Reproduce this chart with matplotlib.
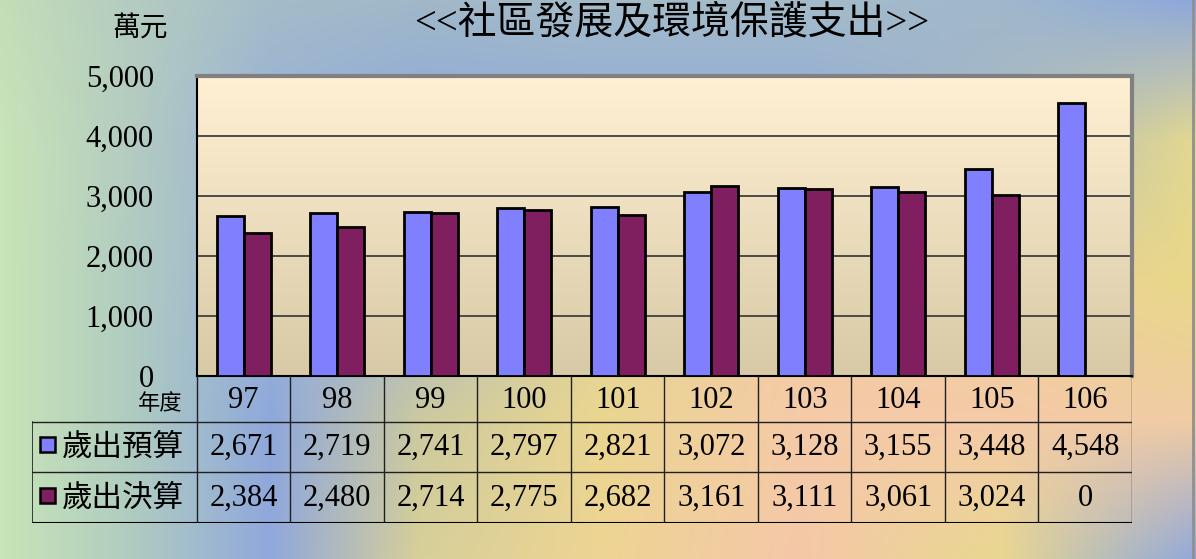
import numpy as np
import matplotlib.pyplot as plt
from matplotlib.colors import to_rgb
from matplotlib.patches import Rectangle

years = ["97", "98", "99", "100", "101", "102", "103", "104", "105", "106"]
budget = [2671, 2719, 2741, 2797, 2821, 3072, 3128, 3155, 3448, 4548]
actual = [2384, 2480, 2714, 2775, 2682, 3161, 3111, 3061, 3024, 0]
series_names = ["歲出預算", "歲出決算"]
title = "<<社區發展及環境保護支出>>"
unit = "萬元"
year_label = "年度"

blue = "#8080FF"
maroon = "#7F1F5F"
serif = ["Liberation Serif", "Noto Sans CJK TC"]
cjk = ["Noto Sans CJK TC", "Liberation Serif"]

W, H = 1196, 559
fig = plt.figure(figsize=(W / 100, H / 100), dpi=100)

# background wash (coarse colour grid, interpolated)
gx = [0, 130, 270, 420, 600, 800, 1000, 1196]
gy = [0, 140, 280, 420, 559]
grid = [
    ["#C4DEB8", "#B4CCC0", "#A4BCC8", "#A0B8C8", "#A4BCC8", "#A4BCC8", "#A0B8CC", "#8CA8DC"],
    ["#C8E4B8", "#B4CCC0", "#98B0D8", "#8FA8DC", "#8FA8DC", "#8FA8DC", "#A8B8C0", "#E4D890"],
    ["#C8E4B8", "#B0CCC0", "#98B0D8", "#A8B8C8", "#E0D498", "#F2CCA0", "#EED098", "#E8D888"],
    ["#C8E4B8", "#B0CCC0", "#8FA8DC", "#CCCAA0", "#EAD690", "#F5CAA8", "#F5CAA8", "#F0CCA4"],
    ["#C8E4B8", "#B0CCC0", "#90A8DC", "#D8D098", "#EED494", "#F5C8A8", "#E8D890", "#90A8DC"],
]
g = np.array([[to_rgb(c) for c in row] for row in grid])
xs = np.arange(W)
ys = np.arange(H)
rows = np.stack([np.stack([np.interp(xs, gx, g[r, :, k]) for k in range(3)], -1)
                 for r in range(len(gy))])
img = np.stack([np.stack([np.interp(ys, gy, rows[:, i, k]) for k in range(3)], -1)
                for i in range(W)], 1)
bg = fig.add_axes([0, 0, 1, 1], zorder=-10)
bg.imshow(img, extent=[0, W, H, 0], aspect="auto")
bg.axvline(1193, color="#909090", lw=2)
bg.set_xlim(0, W)
bg.set_ylim(H, 0)
bg.axis("off")

# main plot area
L, R, T, B = 197, 1132, 76, 376
ax = fig.add_axes([L / W, (H - B) / H, (R - L) / W, (B - T) / H])
n = len(years)
x = np.arange(n)
ax.set_xlim(-0.5, n - 0.5)
ax.set_ylim(0, 5000)
grad = np.linspace(0, 1, 100)[:, None, None]
top, bot = np.array(to_rgb("#FFF0D4")), np.array(to_rgb("#D8CAA6"))
ax.imshow(top * (1 - grad) + bot * grad, extent=[-0.5, n - 0.5, 0, 5000],
          aspect="auto", zorder=0)
for v in [1000, 2000, 3000, 4000]:
    ax.axhline(v, color="#404040", lw=1.3, zorder=1)

w = 0.29
ax.bar(x - w / 2, budget, w, color=blue, edgecolor="black", lw=2, zorder=3)
ax.bar(x + w / 2, actual, w, color=maroon, edgecolor="black", lw=2, zorder=3)

ax.set_xticks([])
ax.set_yticks([0, 1000, 2000, 3000, 4000, 5000])
ax.set_yticklabels(["0", "1,000", "2,000", "3,000", "4,000", "5,000"],
                   fontfamily=serif, fontsize=22)
ax.tick_params(axis="y", length=0, pad=31)
for s in ["top", "right"]:
    ax.spines[s].set_color("#808080")
    ax.spines[s].set_linewidth(3)
ax.spines["left"].set_linewidth(1.5)
ax.spines["bottom"].set_linewidth(1.5)

fig.text(168 / W, 1 - 28 / H, unit, fontfamily=cjk, fontsize=20,
         ha="right", va="center")
fig.text(672 / W, 1 - 24 / H, title, fontfamily=serif, fontsize=28,
         ha="center", va="center")

# data table under the chart
x0 = (32 - L) / ((R - L) / n) - 0.5
tab = fig.add_axes([32 / W, (H - 523) / H, (R - 32) / W, (523 - B) / H])
tab.set_xlim(x0, n - 0.5)
tab.set_ylim(147, 0)
tab.axis("off")
lc = "#202020"
for i in range(n + 1):
    tab.plot([i - 0.5, i - 0.5], [0, 147], color=lc, lw=1)
tab.plot([x0, x0], [46, 147], color=lc, lw=1.2)
for yy in [46, 96]:
    tab.plot([x0, n - 0.5], [yy, yy], color=lc, lw=1)
tab.plot([x0, n - 0.5], [147, 147], color="black", lw=1.5)

for i, yr in enumerate(years):
    tab.text(i, 24, yr, fontfamily=serif, fontsize=22, ha="center", va="center")
    tab.text(i, 71, f"{budget[i]:,}", fontfamily=serif, fontsize=22,
             ha="center", va="center")
    tab.text(i, 122, f"{actual[i]:,}", fontfamily=serif, fontsize=22,
             ha="center", va="center")
tab.text(-0.66, 28, year_label, fontfamily=cjk, fontsize=16, ha="right", va="center")

unit_x = (R - 32) / (n - 0.5 - x0)
for yc, name, col in [(71, series_names[0], blue), (122, series_names[1], maroon)]:
    tab.add_patch(Rectangle((x0 + 8 / unit_x, yc - 10), 15 / unit_x, 15,
                            facecolor=col, edgecolor="black", lw=1.8))
    tab.text(x0 + 30 / unit_x, yc, name, fontfamily=cjk, fontsize=22,
             ha="left", va="center")

fig.savefig("out.png", dpi=100)
